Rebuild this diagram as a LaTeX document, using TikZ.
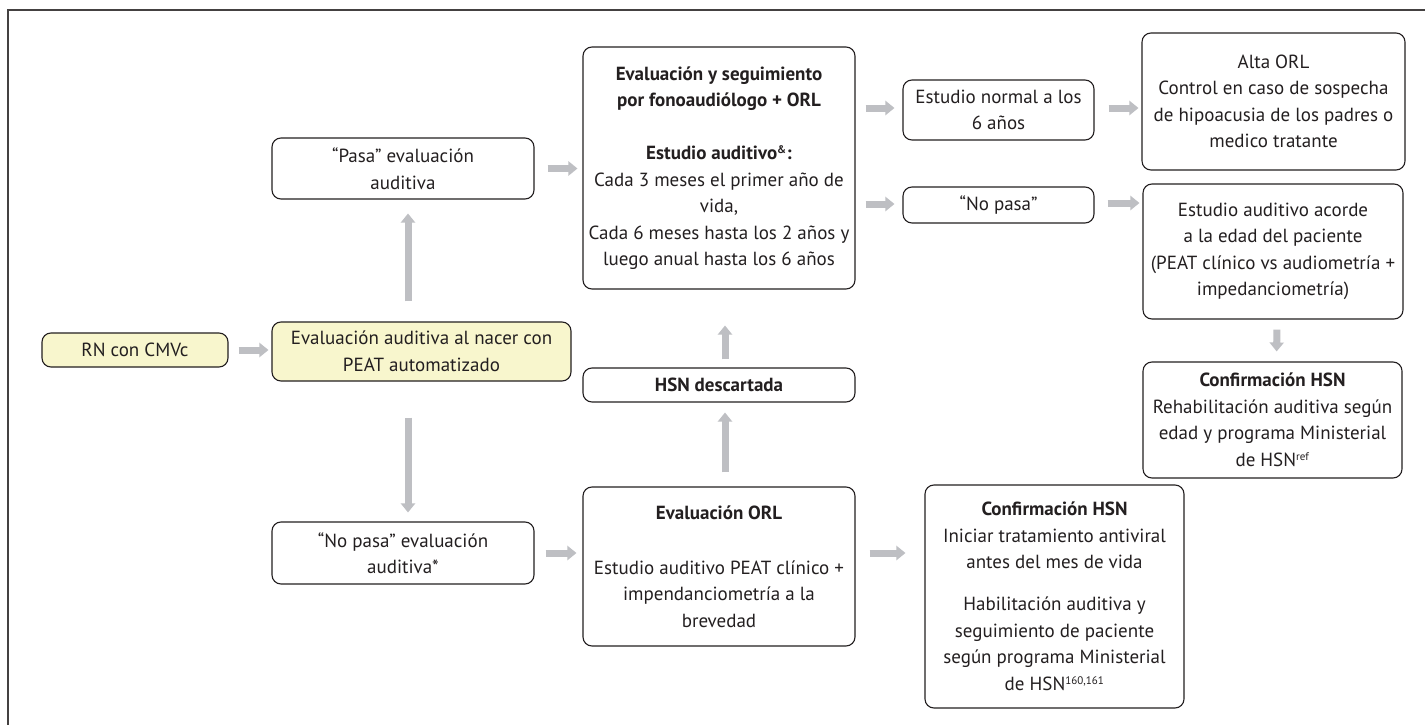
\documentclass[tikz,border=0pt]{standalone}
\usepackage{fontspec}
\setmainfont{PT Sans}
\usetikzlibrary{arrows.meta,calc}
\definecolor{ink}{RGB}{35,31,32}
\definecolor{arrowgray}{RGB}{190,191,195}
\definecolor{paleyellow}{RGB}{248,246,205}
\newcommand{\smallsup}[1]{\textsuperscript{\fontsize{11}{11}\selectfont #1}}
\begin{document}
\begin{tikzpicture}[x=1pt,y=-1pt,
  box/.style={draw=ink, line width=1.1pt, rounded corners=9pt, align=center, inner sep=0pt, text=ink, font=\fontsize{19}{26.5}\selectfont},
  flow/.style={draw=arrowgray, line width=7pt, -{Triangle[length=9pt,width=14pt]}},
]
\useasboundingbox (0,0) rectangle (1425,725);
\fill[white] (0,0) rectangle (1425,725);
\draw[line width=1.4pt, draw=ink!85] (8,725) -- (8,10) -- (1425,10);

\node[box, fill=paleyellow, minimum width=186pt, minimum height=34pt] (rn) at (135,350) {RN con CMVc};
\node[box, fill=paleyellow, minimum width=299pt, minimum height=59pt] (eval0) at (421.5,351.5) {Evaluación auditiva al nacer con\\PEAT automatizado};
\node[box, minimum width=262pt, minimum height=61pt] (pasa) at (403,168.5) {“Pasa” evaluación\\auditiva};
\node[box, minimum width=262pt, minimum height=62pt] (nopasa0) at (403,553) {“No pasa” evaluación\\auditiva*};
\node[box, minimum width=272pt, minimum height=242pt] (big) at (719,168) {\textbf{Evaluación y seguimiento}\\\textbf{por fonoaudiólogo + ORL}\\[26.5pt]\textbf{Estudio auditivo\smallsup{\&}:}\\Cada 3 meses el primer año de\\vida,\\Cada 6 meses hasta los 2 años y\\luego anual hasta los 6 años};
\node[box, minimum width=272pt, minimum height=34pt] (hsnd) at (719,385) {\textbf{HSN descartada}};
\node[box, minimum width=272pt, minimum height=159pt] (orl) at (719,566.5) {\textbf{Evaluación ORL}\\[28.5pt]Estudio auditivo PEAT clínico +\\impendanciometría a la\\brevedad};
\node[box, minimum width=259pt, minimum height=223pt] (conf1) at (1054.5,596.5) {\textbf{Confirmación HSN}\\Iniciar tratamiento antiviral\\antes del mes de vida\\[15.5pt]Habilitación auditiva y\\seguimiento de paciente\\según programa Ministerial\\de HSN\smallsup{160,161}};
\node[box, minimum width=191pt, minimum height=60pt] (estn) at (998.5,110) {Estudio normal a los\\6 años};
\node[box, minimum width=191pt, minimum height=36pt] (nopasa1) at (998.5,205) {“No pasa”};
\node[box, minimum width=263pt, minimum height=137pt] (alta) at (1273.5,101.5) {Alta ORL\\Control en caso de sospecha\\de hipoacusia de los padres o\\medico tratante};
\node[box, minimum width=260pt, minimum height=135pt] (acorde) at (1273,251.5) {Estudio auditivo acorde\\a la edad del paciente\\(PEAT clínico vs audiometría +\\impedanciometría)};
\node[box, minimum width=259pt, minimum height=116pt] (conf2) at (1272.5,420) {\textbf{Confirmación HSN}\\Rehabilitación auditiva según\\edad y programa Ministerial\\de HSN\smallsup{ref}};

\draw[flow, shorten <=10pt, shorten >=3pt] (rn.east) -- (rn.east -| eval0.west);
\draw[flow, shorten <=20pt, shorten >=14pt] ($(pasa.south |- eval0.north)+(5,0)$) -- ($(pasa.south)+(5,0)$);
\draw[flow, shorten <=36pt, shorten >=9pt] ($(pasa.south |- eval0.south)+(5,0)$) -- ($(nopasa0.north)+(5,0)$);
\draw[flow, shorten <=13pt, shorten >=5pt] (pasa.east) -- (pasa.east -| big.west);
\draw[flow, shorten <=11pt, shorten >=6pt] (nopasa0.east) -- (nopasa0.east -| orl.west);
\draw[flow, shorten <=14pt, shorten >=10pt] ($(orl.north)+(6,0)$) -- ($(hsnd.south)+(6,0)$);
\draw[flow, shorten <=8pt, shorten >=36pt] ($(hsnd.north)+(6,0)$) -- ($(big.south)+(6,0)$);
\draw[flow, shorten <=10pt, shorten >=8pt] ($(estn.west -| big.east)+(0,-2)$) -- ($(estn.west)+(0,-2)$);
\draw[flow, shorten <=10pt, shorten >=8pt] ($(nopasa1.west -| big.east)+(0,-1)$) -- ($(nopasa1.west)+(0,-1)$);
\draw[flow, shorten <=14pt, shorten >=3pt] ($(estn.east)+(0,-2)$) -- ($(estn.east -| alta.west)+(0,-2)$);
\draw[flow, shorten <=13pt, shorten >=3pt] ($(nopasa1.east)+(0,-2)$) -- ($(nopasa1.east -| acorde.west)+(0,-2)$);
\draw[flow, shorten <=10pt, shorten >=10pt] ($(acorde.south)+(4,0)$) -- ($(conf2.north)+(4,0)$);
\draw[flow, shorten <=14pt, shorten >=19pt] ($(orl.east)+(0,-13.5)$) -- ($(orl.east -| conf1.west)+(0,-13.5)$);
\end{tikzpicture}
\end{document}
